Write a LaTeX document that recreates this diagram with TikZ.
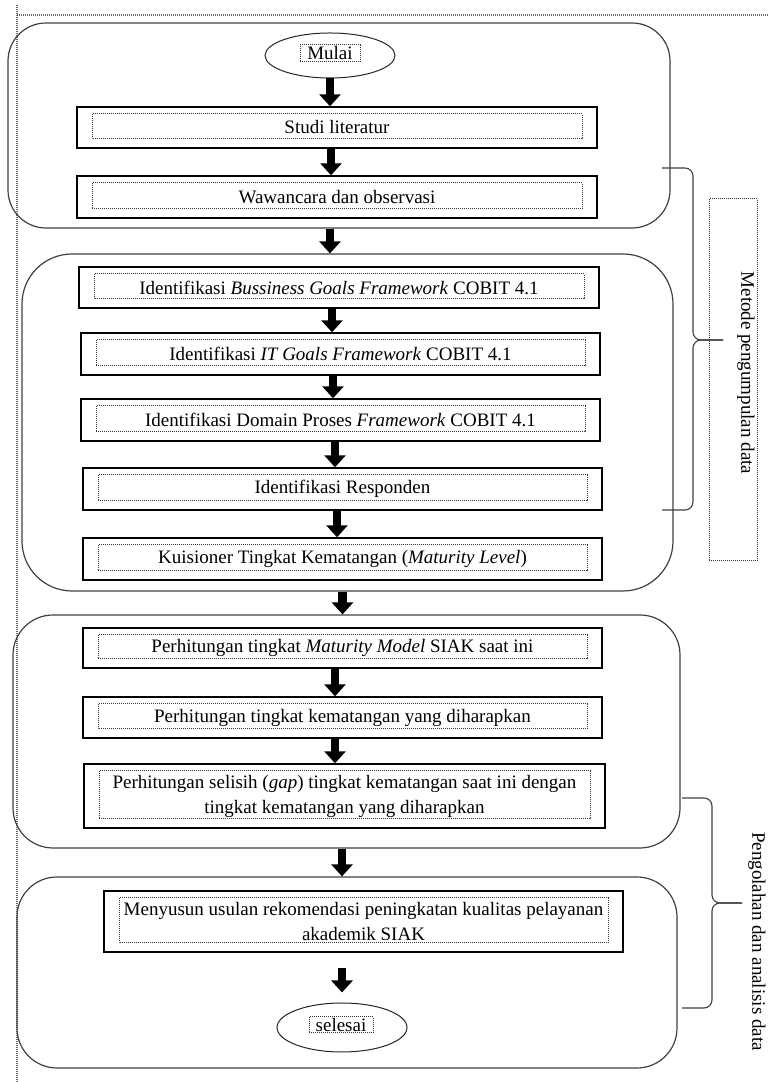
\documentclass[tikz,border=0pt]{standalone}
\usepackage{fontspec}
\setmainfont{Liberation Serif}
\usetikzlibrary{arrows.meta,shapes.geometric}
\newcommand\boxfont{\fontsize{19}{25}\selectfont}
\begin{document}
\begin{tikzpicture}[x=1pt,y=1pt,
  grp/.style={draw=black!75, line width=1.2pt, rounded corners=#1, inner sep=0pt},
  grp/.default=38pt,
  dotline/.style={draw=black!80, line width=1pt, dash pattern=on 1pt off 1pt},
  stepbox/.style={draw=black, line width=1.4pt, inner sep=0pt, align=center, font=\boxfont,
    path picture={\draw[dotline] ([shift={(15pt,-7pt)}]path picture bounding box.north west) rectangle ([shift={(-15pt,9pt)}]path picture bounding box.south east);}},
  term/.style={ellipse, draw=black!85, line width=1pt, inner sep=0pt},
  termtext/.style={dotline, inner sep=0pt, font=\boxfont},
  blockarr/.style={line width=8.5pt, -{Triangle[length=12pt,width=21pt]}},
  brace/.style={draw=black!75, line width=1.1pt, rounded corners=8pt},
  guide/.style={draw=black!60, line width=1.2pt, dash pattern=on 1pt off 1pt},
  sidetext/.style={font=\boxfont, rotate=-90, inner sep=0pt}
]
\useasboundingbox (0,0) rectangle (768,1082);
% page guides
\draw[guide] (17,1077) -- (17,0);
\draw[guide] (17,1067) -- (768,1067);

% groups
\node[grp=38pt, minimum width=662pt, minimum height=205pt] (g1) at (339,956.5) {};
\node[grp=50pt, minimum width=651pt, minimum height=337pt] (g2) at (347.5,659.5) {};
\node[grp=40pt, minimum width=667pt, minimum height=233pt] (g3) at (346.5,350.5) {};
\node[grp=40pt, minimum width=660pt, minimum height=191pt] (g4) at (347,109.5) {};

% terminals
\node[term, minimum width=130pt, minimum height=45pt] (mulai) at (330,1026.5) {};
\node[termtext, minimum width=60pt, minimum height=17pt] (mulaitxt) at (330,1028.5) {Mulai};
\node[term, minimum width=130pt, minimum height=49pt] (selesai) at (342,54.5) {};
\node[termtext, minimum width=64pt, minimum height=16pt] (selesaitxt) at (341,57) {selesai};

% steps
\node[stepbox, minimum width=520pt, minimum height=41pt] (studi) at (337,954.5) {Studi literatur};
\node[stepbox, minimum width=520pt, minimum height=42pt] (waw) at (337,885) {Wawancara dan observasi};
\node[stepbox, minimum width=520pt, minimum height=41pt] (bg) at (339,794.5) {Identifikasi \textit{Bussiness Goals Framework} COBIT 4.1};
\node[stepbox, minimum width=519pt, minimum height=42pt] (itg) at (340.5,728) {Identifikasi \textit{IT Goals Framework} COBIT 4.1};
\node[stepbox, minimum width=519pt, minimum height=42pt] (dom) at (340.5,662) {Identifikasi Domain Proses \textit{Framework} COBIT 4.1};
\node[stepbox, minimum width=519pt, minimum height=42pt] (resp) at (342.5,593) {Identifikasi Responden};
\node[stepbox, minimum width=519pt, minimum height=42pt] (kuis) at (342.5,523) {Kuisioner Tingkat Kematangan (\textit{Maturity Level})};
\node[stepbox, minimum width=519pt, minimum height=40pt] (mat) at (342.5,434) {Perhitungan tingkat \textit{Maturity Model} SIAK saat ini};
\node[stepbox, minimum width=519pt, minimum height=41pt] (kem) at (342.5,364.5) {Perhitungan tingkat kematangan yang diharapkan};
\node[stepbox, minimum width=521pt, minimum height=64pt] (sel) at (344.5,286) {Perhitungan selisih (\textit{gap}) tingkat kematangan saat ini dengan\\tingkat kematangan yang diharapkan};
\node[stepbox, minimum width=519pt, minimum height=61pt] (meny) at (363.5,160.5) {Menyusun usulan rekomendasi peningkatan kualitas pelayanan\\akademik SIAK};

% arrows
\draw[blockarr] (mulai.south) -- (mulai.south |- studi.north);
\draw[blockarr] ([xshift=-6pt]studi.south) -- ([xshift=-6pt]studi.south |- waw.north);
\draw[blockarr] (g1.south -| mulai) -- (g2.north -| mulai);
\draw[blockarr] ([xshift=-7pt]bg.south) -- ([xshift=-7pt]bg.south |- itg.north);
\draw[blockarr] ([xshift=-7.5pt]itg.south) -- ([xshift=-7.5pt]itg.south |- dom.north);
\draw[blockarr] ([xshift=-5.5pt]dom.south) -- ([xshift=-5.5pt]dom.south |- resp.north);
\draw[blockarr] ([xshift=-5.5pt]resp.south) -- ([xshift=-5.5pt]resp.south |- kuis.north);
\draw[blockarr] (g2.south -| kuis) -- (g3.north -| kuis);
\draw[blockarr] ([xshift=-7.5pt]mat.south) -- ([xshift=-7.5pt]mat.south |- kem.north);
\draw[blockarr] ([xshift=-7.5pt]kem.south) -- ([xshift=-7.5pt]kem.south |- sel.north);
\draw[blockarr] (g3.south -| selesai) -- (g4.north -| selesai);
\draw[blockarr] ([yshift=-15pt]meny.south -| selesai) -- ([yshift=10pt]selesai.north);

% brace 1 and label
\coordinate (b1tip) at (723,742);
\draw[brace] (662,914) -- (693,914) -- (693,742) -- (b1tip);
\draw[brace] (b1tip) -- (693,742) -- (693,572) -- (662,572);
\node[dotline, minimum width=48pt, minimum height=362pt, inner sep=0pt] (metbox) at (733,702) {};
\node[sidetext] (metode) at (746,709) {Metode pengumpulan data};

% brace 2 and label
\coordinate (b2tip) at (742,179);
\draw[brace] (682,284) -- (712,284) -- (712,179) -- (b2tip);
\draw[brace] (b2tip) -- (712,179) -- (712,74) -- (682,74);
\node[sidetext] (olah) at (757,140.5) {Pengolahan dan analisis data};
\end{tikzpicture}
\end{document}
